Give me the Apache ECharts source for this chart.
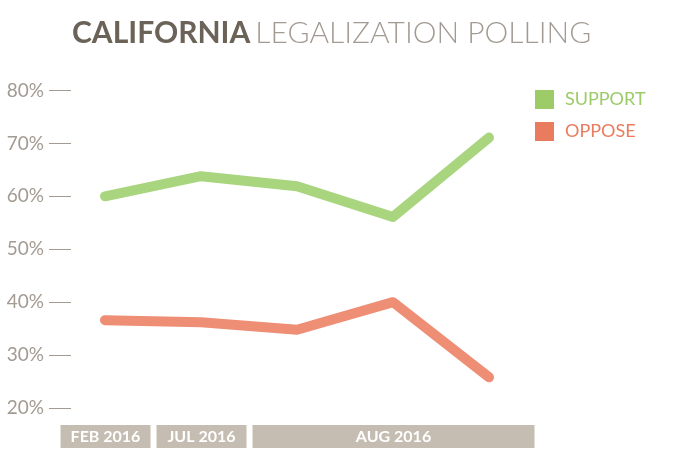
<!DOCTYPE html>
<html>
<head>
<meta charset="utf-8">
<script src="https://cdn.jsdelivr.net/npm/echarts@6/dist/echarts.min.js"></script>
<style>
  html, body { margin: 0; padding: 0; background: #fff; }
  #chart { width: 689px; height: 449px; }
</style>
</head>
<body>
<div id="chart"></div>
<script>
// polls, in order
var polls = ['P1', 'P2', 'P3', 'P4', 'P5'];
var support = [60, 63.8, 61.9, 56.1, 71.1];
var oppose = [36.6, 36.2, 34.8, 40, 25.8];
// month bands under the axis: [first poll index, last poll index]
var periodRange = [[0, 0], [1, 1], [2, 4]];
var periodNames = ['FEB 2016', 'JUL 2016', 'AUG 2016'];

var GREEN = '#a9d57f', GREEN_KEY = '#9ccb68';
var RED = '#ee8e75', RED_KEY = '#e97c5e';
var GREY = '#a39b92';

var myChart = echarts.init(document.getElementById('chart'));

function renderBand(params, api) {
    var from = api.value(0), to = api.value(1);
    var bw = api.size([1, 0])[0];
    var p0 = api.coord([from, 1]);
    var p1 = api.coord([to, 0]);
    var x0 = p0[0] - bw / 2 + 3.5;
    var x1 = p1[0] + bw / 2 - 2.5;
    return {
        type: 'rect',
        shape: { x: x0, y: p0[1], width: x1 - x0, height: p1[1] - p0[1] },
        style: { fill: '#c5bdb2' },
        textContent: {
            style: {
                text: periodNames[params.dataIndex],
                fill: '#fff',
                fontFamily: 'Lato',
                fontWeight: 'bold',
                fontSize: 16
            }
        },
        textConfig: { position: 'inside' }
    };
}

var option = {
    animation: false,
    title: {
        left: 67,
        top: 13,
        text: '{a|CALIFORNIA} {b|LEGALIZATION POLLING}',
        textStyle: {
            rich: {
                a: { fontFamily: 'Lato', fontWeight: 'bold', fontSize: 30, color: '#6b6258' },
                b: { fontFamily: 'Lato', fontWeight: 300, fontSize: 30, color: '#a39b92' }
            }
        }
    },
    legend: {
        orient: 'vertical',
        left: 530,
        top: 85,
        icon: 'rect',
        itemWidth: 19,
        itemHeight: 19,
        itemGap: 13,
        textStyle: { fontFamily: 'Lato', fontSize: 18, padding: [0, 0, 0, 6] },
        data: [
            { name: 'SUPPORT', textStyle: { color: GREEN_KEY } },
            { name: 'OPPOSE', textStyle: { color: RED_KEY } }
        ]
    },
    grid: [
        { left: 57, right: 152, top: 90.5, height: 317.5 },
        { left: 57, right: 152, top: 425, height: 23 }
    ],
    xAxis: [
        {
            type: 'category', gridIndex: 0, data: polls, boundaryGap: true,
            axisLine: { show: false }, axisTick: { show: false }, axisLabel: { show: false }
        },
        {
            type: 'category', gridIndex: 1, data: polls, boundaryGap: true,
            axisLine: { show: false }, axisTick: { show: false }, axisLabel: { show: false }
        }
    ],
    yAxis: [
        {
            type: 'value', gridIndex: 0, min: 20, max: 80, interval: 10,
            offset: -14,
            axisLine: { show: false },
            axisTick: { show: true, length: 22, lineStyle: { color: GREY, width: 1 } },
            splitLine: { show: false },
            axisLabel: {
                margin: 27,
                formatter: '{value}%',
                color: GREY,
                fontFamily: 'Lato',
                fontSize: 19
            }
        },
        {
            type: 'value', gridIndex: 1, min: 0, max: 1, show: false
        }
    ],
    series: [
        {
            name: 'SUPPORT',
            type: 'line',
            data: support,
            showSymbol: false,
            itemStyle: { color: GREEN_KEY },
            lineStyle: { color: GREEN, width: 10, cap: 'round', join: 'round' }
        },
        {
            name: 'OPPOSE',
            type: 'line',
            data: oppose,
            showSymbol: false,
            itemStyle: { color: RED_KEY },
            lineStyle: { color: RED, width: 10, cap: 'round', join: 'round' }
        },
        {
            type: 'custom',
            xAxisIndex: 1,
            yAxisIndex: 1,
            renderItem: renderBand,
            encode: { x: [0, 1] },
            data: periodRange,
            silent: true
        }
    ]
};

myChart.setOption(option);
</script>
</body>
</html>
